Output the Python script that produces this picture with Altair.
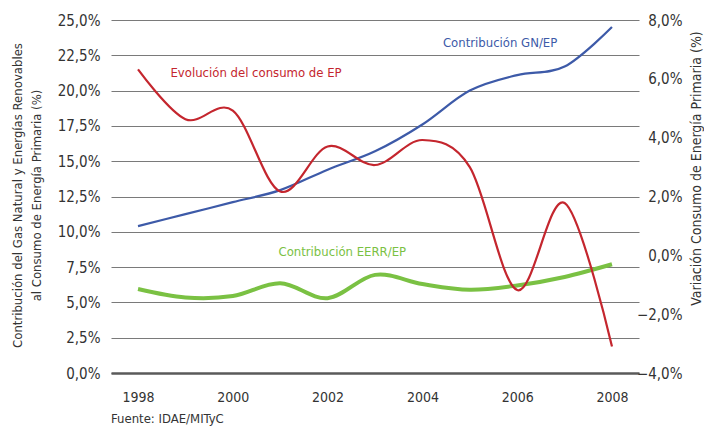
import altair as alt
import pandas as pd

# ---------------- data ----------------
years = list(range(1998, 2009))
gn_ep = [10.4, 11.25, 12.1, 12.95, 14.4, 15.7, 17.6, 20.0, 21.1, 21.7, 24.5]
eerr_ep = [5.95, 5.35, 5.45, 6.35, 5.3, 6.95, 6.3, 5.9, 6.2, 6.8, 7.7]
consumo_ep = [6.32, 4.63, 4.92, 2.17, 3.70, 3.07, 3.92, 3.0, -1.18, 1.78, -3.1]

left_ticks = [0, 2.5, 5, 7.5, 10, 12.5, 15, 17.5, 20, 22.5, 25]
right_ticks = [-4, -2, 0, 2, 4, 6, 8]
year_ticks = [1998, 2000, 2002, 2004, 2006, 2008]

label_texts = ["Contribución GN/EP", "Evolución del consumo de EP", "Contribución EERR/EP"]
label_years = [2005.64, 2000.49, 2002.31]
label_values = [23.39, 21.23, 8.59]
label_colors = ["#3d5aa8", "#c4262e", "#7ac143"]

BLUE, RED, GREEN = "#3d5aa8", "#c4262e", "#7ac143"
FONT = "Liberation Sans Narrow, Arial Narrow, DejaVu Sans Condensed, sans-serif"

W, H = 528, 353
LABEL_EXPR = "replace(format(datum.value, '.1f'), '.', ',') + '%'"

df = pd.DataFrame({"year": years, "gn": gn_ep, "eerr": eerr_ep, "ep": consumo_ep})
lab = pd.DataFrame({"text": label_texts, "year": label_years, "value": label_values,
                    "color": label_colors})

xscale = alt.Scale(domain=[1997.43, 2008.57], nice=False, zero=False)
xaxis = alt.Axis(values=year_ticks, format="d", grid=False, ticks=False, tickSize=0,
                 domain=True, domainColor="#5a5a5a", domainWidth=2.5,
                 labelPadding=17, labelFontSize=14, labelColor="#333333",
                 labelFont=FONT, labelOverlap=False, title=None)

lscale = alt.Scale(domain=[0, 25], nice=False, zero=False)
laxis = alt.Axis(values=left_ticks, tickCount=11, grid=True, gridColor="#7a7a7a",
                 gridWidth=1.2, domain=False, ticks=False, tickSize=0, labelPadding=11,
                 labelFontSize=15, labelColor="#333333", labelFont=FONT,
                 labelOverlap=False, labelExpr=LABEL_EXPR,
                 title=["Contribución del Gas Natural y Energías Renovables",
                        "al Consumo de Energía Primaria (%)"],
                 titleFont=FONT, titleFontSize=13, titleFontWeight="normal",
                 titleColor="#333333", titleAngle=270, titleAlign="center",
                 titleBaseline="top", titleX=-100, titleY=175, titleLineHeight=19)

rscale = alt.Scale(domain=[-4, 8], nice=False, zero=False)
raxis = alt.Axis(values=right_ticks, orient="right", grid=False, domain=False,
                 ticks=False, tickSize=0, labelAlign="right", labelPadding=43,
                 labelFontSize=15, labelColor="#333333", labelFont=FONT,
                 labelOverlap=False, labelExpr=LABEL_EXPR,
                 title="Variación Consumo de Energía Primaria (%)",
                 titleFont=FONT, titleFontSize=14, titleFontWeight="normal",
                 titleColor="#333333", titleAngle=270, titleAlign="center",
                 titleBaseline="middle", titleX=57, titleY=148)

base = alt.Chart(df)

blue = base.mark_line(color=BLUE, strokeWidth=2.2, interpolate="cardinal").encode(
    x=alt.X("year:Q", scale=xscale, axis=xaxis),
    y=alt.Y("gn:Q", scale=lscale, axis=laxis),
)
green = base.mark_line(color=GREEN, strokeWidth=4, interpolate="cardinal").encode(
    x=alt.X("year:Q", scale=xscale, axis=xaxis),
    y=alt.Y("eerr:Q", scale=lscale, axis=laxis),
)
texts = alt.Chart(lab).mark_text(font=FONT, fontSize=13, align="center",
                                 baseline="middle").encode(
    x=alt.X("year:Q", scale=xscale, axis=xaxis),
    y=alt.Y("value:Q", scale=lscale, axis=laxis),
    text="text:N",
    color=alt.Color("color:N", scale=None),
)
left = alt.layer(blue, green, texts)

red = base.mark_line(color=RED, strokeWidth=2.2, interpolate="cardinal").encode(
    x=alt.X("year:Q", scale=xscale, axis=xaxis),
    y=alt.Y("ep:Q", scale=rscale, axis=raxis),
)

chart = alt.layer(left, red).resolve_scale(y="independent").properties(
    width=W, height=H,
    autosize=alt.AutoSizeParams(type="none"),
    padding={"left": 103, "top": 12, "right": 65, "bottom": 53},
    title=alt.TitleParams("Fuente: IDAE/MITyC", orient="bottom", anchor="start",
                          frame="group", offset=9, font=FONT, fontSize=13,
                          fontWeight="normal", color="#333333"),
).configure_view(stroke=None)

chart.save("out.html", embed_options={"renderer": "svg", "actions": False})
